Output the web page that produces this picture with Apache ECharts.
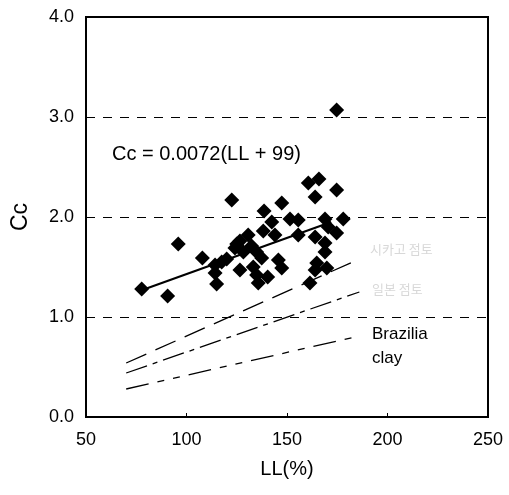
<!DOCTYPE html>
<html>
<head>
<meta charset="utf-8">
<script src="https://cdn.jsdelivr.net/npm/echarts@6/dist/echarts.min.js"></script>
<style>html,body{margin:0;padding:0;background:#fff}#c{width:509px;height:495px}</style>
</head>
<body>
<div id="c"></div>
<script>
// Data
var xTicks = [50, 100, 150, 200, 250];
var yTicks = [0, 1, 2, 3, 4];
var measured = [
  [77.7,1.28],[90.6,1.21],[95.9,1.73],[107.9,1.59],
  [114.2,1.44],[115,1.33],[114.2,1.52],[117.5,1.55],[120,1.58],
  [122.5,2.17],[124.1,1.69],[125,1.73],[126.6,1.76],[126.6,1.47],[128.3,1.65],
  [130.7,1.82],[132.4,1.71],[133.2,1.50],[134.9,1.65],[134.9,1.42],[135.7,1.34],
  [137.4,1.59],[138.2,1.86],[138.6,2.06],[140.4,1.40],
  [142.4,1.95],[144,1.82],[145.7,1.57],[147.4,1.49],[147.4,2.14],
  [151.5,1.98],[155.6,1.97],[155.6,1.82],
  [160.6,2.34],[161.4,1.34],[164,2.20],[164,1.80],[164.8,1.54],[164,1.47],[165.9,2.38],
  [168.9,1.98],[168.9,1.74],[168.9,1.65],[169.8,1.49],[170.5,1.90],[174.7,1.84],
  [174.7,2.27],[174.7,3.07],[178,1.98]
];
var fitLine = [[78,1.27],[172,1.95]];
var refLine1 = [[70,0.54],[186,1.58]];
var refLine2 = [[70,0.44],[186,1.25]];
var refLine3 = [[70,0.28],[186,0.81]];
var equationText = 'Cc = 0.0072(LL + 99)';
var label1 = '시카고 점토';
var label2 = '일본 점토';
var label3 = 'Brazilia\nclay';

var FONT = '"Liberation Sans", Arial, sans-serif';
var chart = echarts.init(document.getElementById('c'));
function refSeries(data, dash) {
  return {
    type: 'line', data: data, symbol: 'none', silent: true,
    lineStyle: { color: '#000', width: 1.3, type: dash }
  };
}
chart.setOption({
  animation: false,
  grid: { left: 86, right: 21, top: 17, bottom: 78, show: true, borderColor: '#000', borderWidth: 2 },
  xAxis: {
    type: 'value', min: 50, max: 250, interval: 50,
    name: 'LL(%)', nameLocation: 'middle', nameGap: 42,
    nameTextStyle: { fontFamily: FONT, fontSize: 20, color: '#000' },
    axisLine: { show: true, lineStyle: { color: '#000', width: 2 } },
    axisTick: { show: true, inside: true, length: 4, lineStyle: { color: '#000' } },
    axisLabel: { fontFamily: FONT, fontSize: 18, color: '#000', margin: 14 },
    splitLine: { show: false }
  },
  yAxis: {
    type: 'value', min: 0, max: 4, interval: 1,
    name: 'Cc', nameLocation: 'middle', nameGap: 54, nameRotate: 90,
    nameTextStyle: { fontFamily: FONT, fontSize: 23, color: '#000' },
    axisLine: { show: true, lineStyle: { color: '#000', width: 2 } },
    axisTick: { show: false },
    axisLabel: { fontFamily: FONT, fontSize: 18, color: '#000', margin: 12,
      formatter: function (v) { return v.toFixed(1); } },
    splitLine: { show: true, lineStyle: { color: '#000', width: 1, type: [9, 8] } }
  },
  series: [
    refSeries(refLine1, [22, 10]),
    refSeries(refLine2, [22, 6, 5, 6]),
    refSeries(refLine3, [23, 9, 7, 9, 7, 9]),
    {
      type: 'line', data: fitLine, symbol: 'none', silent: true,
      lineStyle: { color: '#000', width: 2.2 }
    },
    {
      type: 'scatter', data: measured, symbol: 'diamond', symbolSize: 15,
      itemStyle: { color: '#000', opacity: 1 }
    }
  ],
  graphic: [
    { type: 'text', left: 112, top: 144, style: { text: equationText, font: '20px ' + FONT, fill: '#000' } },
    { type: 'text', left: 370, top: 243, style: { text: label1, font: '13px "Noto Sans CJK KR"', fill: '#d8d8d8' } },
    { type: 'text', left: 372, top: 283, style: { text: label2, font: '13px "Noto Sans CJK KR"', fill: '#d8d8d8' } },
    { type: 'text', left: 372, top: 322, style: { text: label3, font: '17px ' + FONT, fill: '#000', lineHeight: 24 } }
  ]
});
</script>
</body>
</html>
